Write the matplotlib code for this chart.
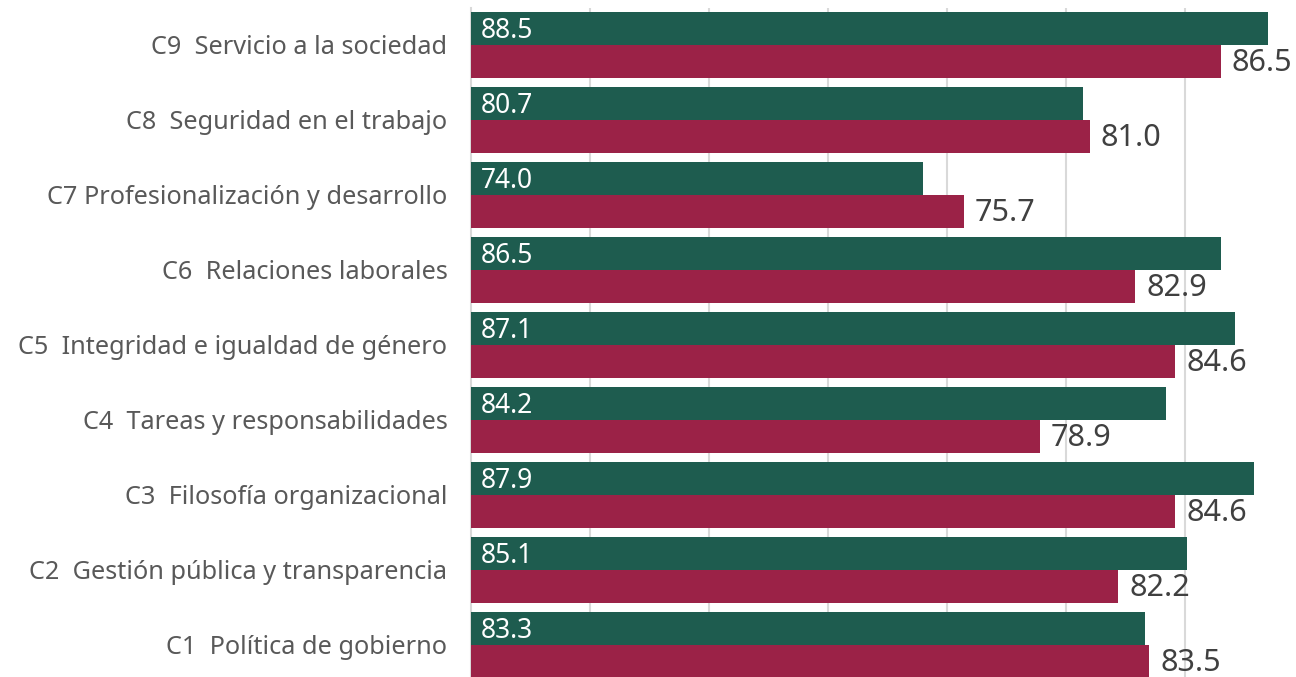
import matplotlib
matplotlib.use("Agg")
import matplotlib.pyplot as plt
import numpy as np

plt.rcParams['font.family'] = ['Noto Sans', 'DejaVu Sans']

# categories bottom to top
categories = [
    "C1  Política de gobierno",
    "C2  Gestión pública y transparencia",
    "C3  Filosofía organizacional",
    "C4  Tareas y responsabilidades",
    "C5  Integridad e igualdad de género",
    "C6  Relaciones laborales",
    "C7 Profesionalización y desarrollo",
    "C8  Seguridad en el trabajo",
    "C9  Servicio a la sociedad",
]
serie_verde = [83.3, 85.1, 87.9, 84.2, 87.1, 86.5, 74.0, 80.7, 88.5]
serie_guinda = [83.5, 82.2, 84.6, 78.9, 84.6, 82.9, 75.7, 81.0, 86.5]

verde = "#1E5C4F"
guinda = "#9B2247"

fig = plt.figure(figsize=(12.96, 6.77), dpi=100)
ax = fig.add_axes([471 / 1296, 0, 1 - 471 / 1296, 1 - 8 / 677])

y = np.arange(len(categories))
h = 0.44
ax.barh(y + h / 2, serie_verde, height=h, color=verde, zorder=3)
ax.barh(y - h / 2, serie_guinda, height=h, color=guinda, zorder=3)

xmin = 55
ax.set_xlim(xmin, 55 + (1296 - 471) / 23.8)
ax.set_ylim(-0.427, 8.487)

for yi, v in zip(y, serie_verde):
    ax.annotate(f"{v:.1f}", (xmin, yi + h / 2), xytext=(10, -3), textcoords="offset pixels",
                va="center", ha="left", color="white", fontsize=19, zorder=4)
for yi, v in zip(y, serie_guinda):
    ax.annotate(f"{v:.1f}", (v, yi - h / 2), xytext=(11, -2), textcoords="offset pixels",
                va="center", ha="left", color="#404040", fontsize=22, zorder=4)

ax.set_xticks([60, 65, 70, 75, 80, 85])
ax.xaxis.grid(True, color="#d9d9d9", linewidth=1.5, zorder=0)
ax.tick_params(axis="x", length=0, labelbottom=False)
ax.set_yticks(y)
ax.set_yticklabels(categories, fontsize=18.2, color="#595959")
ax.tick_params(axis="y", length=0, pad=17)
for s in ["top", "right", "bottom"]:
    ax.spines[s].set_visible(False)
ax.spines["left"].set_color("#d9d9d9")
ax.spines["left"].set_linewidth(1.5)

fig.savefig("out.png", dpi=100)
